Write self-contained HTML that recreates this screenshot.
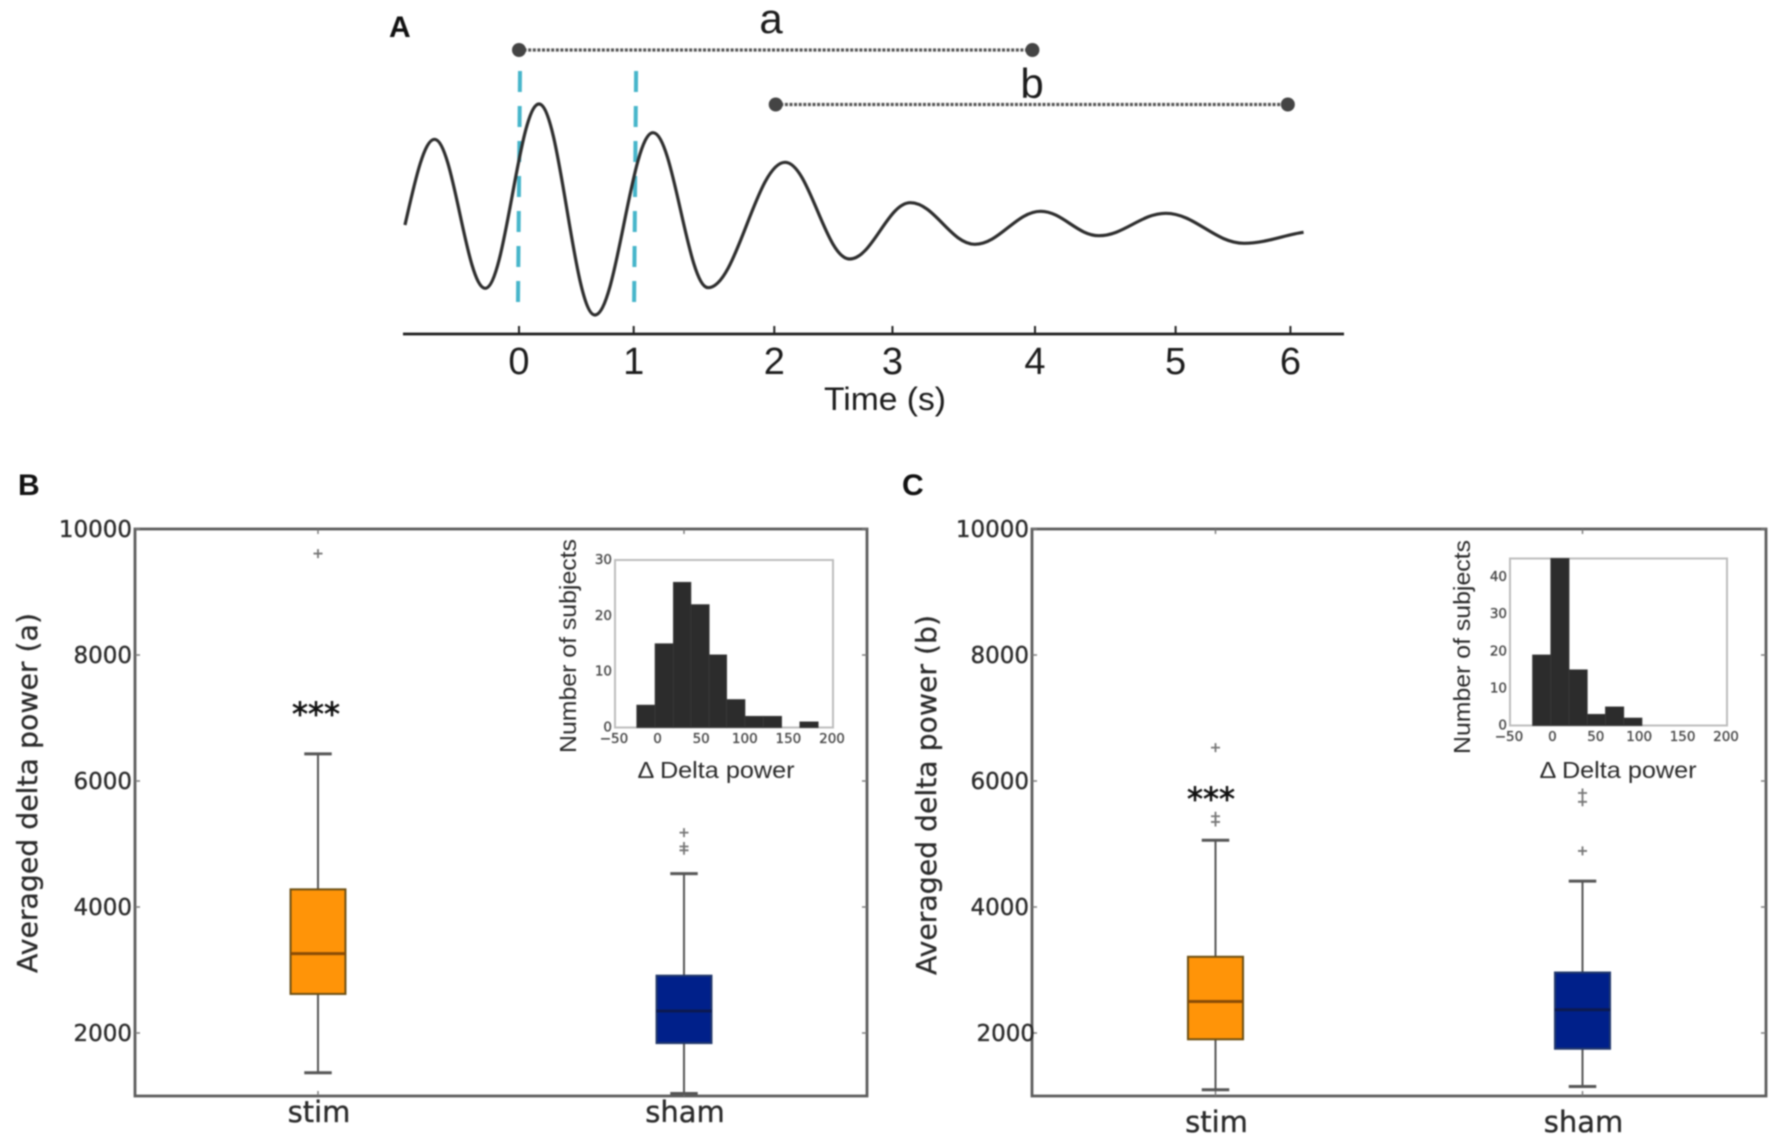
<!DOCTYPE html>
<html lang="en">
<head>
<meta charset="utf-8">
<title>Delta power after stimulation</title>
<style>
  html, body { margin: 0; padding: 0; background: #fff; }
  body { width: 1772px; height: 1143px; overflow: hidden; }
  svg { display: block; filter: blur(0.7px); }
</style>
</head>
<body>
<svg id="figure" xmlns="http://www.w3.org/2000/svg" width="1772" height="1143" viewBox="0 0 1772 1143">
  <rect width="1772" height="1143" fill="#fff"/>
  <g id="panel-a"></g>
  <g id="panel-b"></g>
  <g id="panel-c"></g>
  <text x="389" y="37" font-family="'Liberation Sans', sans-serif" font-weight="700" font-size="30" fill="#111">A</text>
  <text x="18" y="495" font-family="'Liberation Sans', sans-serif" font-weight="700" font-size="30" fill="#111">B</text>
  <text x="902" y="495" font-family="'Liberation Sans', sans-serif" font-weight="700" font-size="30" fill="#111">C</text>
</svg>
<script>
// Panel A: damped waveform, turning points
const signalTime = [-0.884, -0.655, -0.262, 0.155, 0.588, 1.039, 1.466, 2.063, 2.563, 3.034, 3.534, 4.044, 4.495, 5.014, 5.62, 6.082];
const signalValue = [-15, 70.7, -78.3, 106, -105, 77.3, -77.7, 47.7, -49, 7.3, -34.3, -1.3, -25.7, -3.3, -33.3, -22.3];
const timeTicks = [0, 0.889, 1.979, 2.895, 4, 5.09, 5.98];
const timeTickLabels = ['0', '1', '2', '3', '4', '5', '6'];
const stimulusTimes = [0, 0.9];
const windowStart = [0, 1.99];
const windowEnd = [3.98, 5.96];
const windowNames = ['a', 'b'];

// Panels B and C: box plots
const boxCategories = ['stim', 'sham'];
const valueTicks = [2000, 4000, 6000, 8000, 10000];

const panelBQ1 = [2620, 1840];
const panelBMedian = [3260, 2350];
const panelBQ3 = [4280, 2910];
const panelBWhiskerLow = [1370, 1040];
const panelBWhiskerHigh = [6430, 4530];
const panelBFliers = [[9610], [5180, 4960, 4900]];

const panelCQ1 = [1900, 1750];
const panelCMedian = [2500, 2370];
const panelCQ3 = [3210, 2960];
const panelCWhiskerLow = [1100, 1150];
const panelCWhiskerHigh = [5060, 4410];
const panelCFliers = [[6530, 5440, 5350], [5810, 5670, 4890]];

// Inset histograms
const insetXTicks = [-50, 0, 50, 100, 150, 200];
const insetXTickLabels = ['\u221250', '0', '50', '100', '150', '200'];

const insetBEdges = [-25, -4, 17, 37, 58, 78, 99, 120, 141, 162, 183];
const insetBCounts = [4, 15, 26, 22, 13, 5, 2, 2, 0, 1];
const insetBYTicks = [0, 10, 20, 30];

const insetCEdges = [-24, -3, 18, 39, 60, 81, 102];
const insetCCounts = [19, 45, 15, 3, 5, 2];
const insetCYTicks = [0, 10, 20, 30, 40];

const SVGNS = 'http://www.w3.org/2000/svg';
const DEJAVU = "'DejaVu Sans', sans-serif";
const LIBERATION = "'Liberation Sans', sans-serif";

function make(parent, tag, attrs, text) {
  const el = document.createElementNS(SVGNS, tag);
  for (const k in attrs) el.setAttribute(k, attrs[k]);
  if (text !== undefined) el.textContent = text;
  parent.appendChild(el);
  return el;
}

/* ---------- Panel A ---------- */
function drawPanelA() {
  const g = document.getElementById('panel-a');
  const x = t => 519 + 129 * t;
  const y = v => 210 - v;

  stimulusTimes.forEach((t, i) => {
    const stim = make(g, 'line', { x1: x(t) + 1, x2: x(t) - 1, y1: 71, y2: 302, stroke: '#46b5ca', 'stroke-width': 4, 'stroke-dasharray': '21 14' });
    
    
  });

  let d = 'M' + x(signalTime[0]) + ' ' + y(signalValue[0]);
  for (let i = 1; i < signalTime.length; i++) {
    const x0 = x(signalTime[i - 1]), y0 = y(signalValue[i - 1]);
    const x1 = x(signalTime[i]), y1 = y(signalValue[i]);
    const dx = x1 - x0, dy = y1 - y0;
    let c1x = x0 + dx * 0.37, c1y = y0;
    let c2x = x1 - dx * 0.37, c2y = y1;
    if (i === 1) { c1x = x0 + dx * 0.3; c1y = y0 + dy * 0.45; }
    if (i === signalTime.length - 1) { c2x = x1 - dx * 0.3; c2y = y1 - dy * 0.2; }
    d += ' C' + c1x + ' ' + c1y + ' ' + c2x + ' ' + c2y + ' ' + x1 + ' ' + y1;
  }
  const wave = make(g, 'path', { d: d, fill: 'none', stroke: '#2e2e2e', 'stroke-width': 3.2 });
  
  

  const windowY = [50, 104.5];
  const windowLabelY = [33, 98];
  const windowLabelX = [771, 1032];
  windowNames.forEach((name, i) => {
    const line = make(g, 'line', { x1: x(windowStart[i]), x2: x(windowEnd[i]), y1: windowY[i], y2: windowY[i], stroke: '#555', 'stroke-width': 3.2, 'stroke-dasharray': '3 1.6' });
    
    
    const dotStart = make(g, 'circle', { cx: x(windowStart[i]), cy: windowY[i], r: 7, fill: '#444' });
    
    
    const dotEnd = make(g, 'circle', { cx: x(windowEnd[i]), cy: windowY[i], r: 7, fill: '#444' });
    
    
    const label = make(g, 'text', { x: windowLabelX[i], y: windowLabelY[i], 'text-anchor': 'middle', 'font-family': LIBERATION, 'font-size': 42, fill: '#1c1c1c' }, name);
    
    
  });

  const axis = make(g, 'line', { x1: 403, x2: 1344, y1: 334, y2: 334, stroke: '#1c1c1c', 'stroke-width': 2.8 });
  
  

  timeTicks.forEach((t, i) => {
    const tick = make(g, 'line', { x1: x(t), x2: x(t), y1: 326, y2: 334, stroke: '#222', 'stroke-width': 2 });
    
    
    const label = make(g, 'text', { x: x(t), y: 374, 'text-anchor': 'middle', 'font-family': LIBERATION, 'font-size': 38, fill: '#1c1c1c' }, timeTickLabels[i]);
    
    
  });

  const title = make(g, 'text', { x: 885, y: 410, 'text-anchor': 'middle', 'font-family': LIBERATION, 'font-size': 32, fill: '#1c1c1c', textLength: 122, lengthAdjust: 'spacingAndGlyphs' }, 'Time (s)');
  
  
}

/* ---------- Box panels ---------- */
function drawBoxPanel(g, cfg, q1, med, q3, wLow, wHigh, fliers) {
  const x = pos => cfg.left + (pos - 0.5) / 2 * (cfg.right - cfg.left);
  const unit = (cfg.right - cfg.left) / 2;
  const y = v => cfg.top + (10000 - v) / 9000 * (cfg.bottom - cfg.top);
  const fills = ['#ff9408', '#00208a'];
  const edges = ['#6d4f12', '#22386c'];
  const medians = ['#8a4c06', '#0c1a50'];

  const frame = make(g, 'rect', { x: cfg.left, y: cfg.top, width: cfg.right - cfg.left, height: cfg.bottom - cfg.top, fill: 'none', stroke: '#5c5c5c', 'stroke-width': 2.8 });
  
  

  valueTicks.forEach(v => {
    const left = make(g, 'line', { x1: cfg.left, x2: cfg.left + 5, y1: y(v), y2: y(v), stroke: '#777', 'stroke-width': 1.4 });
    
    
    const right = make(g, 'line', { x1: cfg.right - 5, x2: cfg.right, y1: y(v), y2: y(v), stroke: '#777', 'stroke-width': 1.4 });
    
    
    const nudge = (v === 2000) ? cfg.lowLabelNudge : 0;
    const label = make(g, 'text', { x: cfg.left - 3 + nudge, y: y(v) + 8, 'text-anchor': 'end', 'font-family': DEJAVU, 'font-size': 23, fill: '#2a2a2a', stroke: '#2a2a2a', 'stroke-width': 0.35 }, String(v));
    
    
  });

  boxCategories.forEach((cat, i) => {
    const cx = x(i + 1);
    const topTick = make(g, 'line', { x1: cx, x2: cx, y1: cfg.top, y2: cfg.top + 5, stroke: '#777', 'stroke-width': 1.4 });
    
    
    const botTick = make(g, 'line', { x1: cx, x2: cx, y1: cfg.bottom - 5, y2: cfg.bottom, stroke: '#777', 'stroke-width': 1.4 });
    
    

    const whisker = make(g, 'line', { x1: cx, x2: cx, y1: y(wHigh[i]), y2: y(wLow[i]), stroke: '#555', 'stroke-width': 2 });
    
    
    const capHigh = make(g, 'line', { x1: cx - unit * 0.0375, x2: cx + unit * 0.0375, y1: y(wHigh[i]), y2: y(wHigh[i]), stroke: '#555', 'stroke-width': 3 });
    
    
    const capLow = make(g, 'line', { x1: cx - unit * 0.0375, x2: cx + unit * 0.0375, y1: y(wLow[i]), y2: y(wLow[i]), stroke: '#555', 'stroke-width': 3 });
    
    

    const box = make(g, 'rect', { x: cx - unit * 0.075, y: y(q3[i]), width: unit * 0.15, height: y(q1[i]) - y(q3[i]), fill: fills[i], stroke: edges[i], 'stroke-width': 2 });
    
    
    const median = make(g, 'line', { x1: cx - unit * 0.075, x2: cx + unit * 0.075, y1: y(med[i]), y2: y(med[i]), stroke: medians[i], 'stroke-width': 3 });
    
    

    fliers[i].forEach(v => {
      const d = 'M' + (cx - 4.5) + ' ' + y(v) + ' h9 M' + cx + ' ' + (y(v) - 4.5) + ' v9';
      const flier = make(g, 'path', { d: d, fill: 'none', stroke: '#777', 'stroke-width': 1.8 });
      
      
    });

    const label = make(g, 'text', { x: cx + 1, y: cfg.catLabelY, 'text-anchor': 'middle', 'font-family': DEJAVU, 'font-size': 29, fill: '#2a2a2a', stroke: '#2a2a2a', 'stroke-width': 0.35 }, cat);
    
    
  });

  const ty = make(g, 'text', { transform: 'translate(' + cfg.titleX + ' ' + cfg.titleY + ') rotate(-90)', 'text-anchor': 'middle', 'font-family': DEJAVU, 'font-size': 28, fill: '#2a2a2a', stroke: '#2a2a2a', 'stroke-width': 0.3, textLength: 360, lengthAdjust: 'spacingAndGlyphs' }, cfg.title);
  
  

  const stars = make(g, 'text', { x: cfg.starX, y: cfg.starY, 'text-anchor': 'middle', 'font-family': DEJAVU, 'font-size': 32, fill: '#111', stroke: '#111', 'stroke-width': 0.7 }, '***');
  
  
}

/* ---------- Insets ---------- */
function drawInset(g, cfg, binEdges, counts, yTicks) {
  const x = v => cfg.left + (v + 50) / 250 * (cfg.right - cfg.left);
  const y = v => cfg.bottom - v / cfg.yMax * (cfg.bottom - cfg.top);

  const frame = make(g, 'rect', { x: cfg.left, y: cfg.top, width: cfg.right - cfg.left, height: cfg.bottom - cfg.top, fill: '#fff', stroke: '#bdbdbd', 'stroke-width': 2 });
  
  

  counts.forEach((c, i) => {
    if (!c) return;
    const bar = make(g, 'rect', { x: x(binEdges[i]), y: y(c), width: x(binEdges[i + 1]) - x(binEdges[i]), height: y(0) - y(c), fill: '#2c2c2c', stroke: '#3a3a3a', 'stroke-width': 0.8 });
    
    
  });

  insetXTicks.forEach((v, i) => {
    const label = make(g, 'text', { x: x(v) - 1, y: cfg.bottom + 15.5, 'text-anchor': 'middle', 'font-family': DEJAVU, 'font-size': 13.5, fill: '#444', stroke: '#444', 'stroke-width': 0.3 }, insetXTickLabels[i]);
    
    
  });
  yTicks.forEach(v => {
    const label = make(g, 'text', { x: cfg.left - 3, y: y(v) + 4, 'text-anchor': 'end', 'font-family': DEJAVU, 'font-size': 13.5, fill: '#444', stroke: '#444', 'stroke-width': 0.3 }, String(v));
    
    
  });

  const ty = make(g, 'text', { transform: 'translate(' + cfg.titleX + ' ' + cfg.titleY + ') rotate(-90)', 'text-anchor': 'middle', 'font-family': LIBERATION, 'font-size': 23, fill: '#2a2a2a', textLength: 214, lengthAdjust: 'spacingAndGlyphs' }, 'Number of subjects');
  
  

  const tx = make(g, 'text', { x: cfg.xTitleX, y: 778, 'text-anchor': 'middle', 'font-family': LIBERATION, 'font-size': 23, fill: '#2a2a2a', textLength: 157, lengthAdjust: 'spacingAndGlyphs' }, '\u0394 Delta power');
  
  
}

drawPanelA();

const panelBGroup = document.getElementById('panel-b');
drawBoxPanel(panelBGroup,
  { left: 135, right: 867, top: 529, bottom: 1096, lowLabelNudge: 0, catLabelY: 1122, title: 'Averaged delta power (a)', titleX: 37, titleY: 793, starX: 316, starY: 725 },
  panelBQ1, panelBMedian, panelBQ3, panelBWhiskerLow, panelBWhiskerHigh, panelBFliers);
drawInset(panelBGroup,
  { left: 615, right: 833, top: 560, bottom: 727.5, yMax: 30, titleX: 576, titleY: 646, xTitleX: 716 },
  insetBEdges, insetBCounts, insetBYTicks);

const panelCGroup = document.getElementById('panel-c');
drawBoxPanel(panelCGroup,
  { left: 1032, right: 1766, top: 529, bottom: 1096, lowLabelNudge: 6, catLabelY: 1132, title: 'Averaged delta power (b)', titleX: 936, titleY: 795, starX: 1211, starY: 810 },
  panelCQ1, panelCMedian, panelCQ3, panelCWhiskerLow, panelCWhiskerHigh, panelCFliers);
drawInset(panelCGroup,
  { left: 1510, right: 1727, top: 558.5, bottom: 725.5, yMax: 45, titleX: 1470, titleY: 647, xTitleX: 1618 },
  insetCEdges, insetCCounts, insetCYTicks);
</script>
</body>
</html>
